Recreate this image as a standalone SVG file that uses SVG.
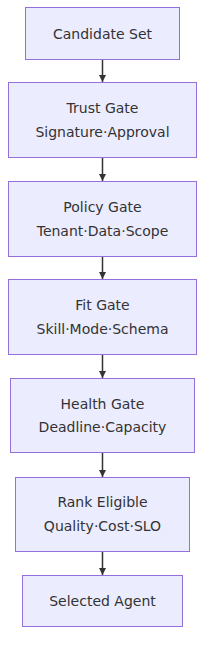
<svg xmlns="http://www.w3.org/2000/svg" width="213" height="658" viewBox="0 0 213 658">
<style>
.node rect{fill:#ECECFF;stroke:#9370DB;stroke-width:1}
.node text{font-family:"DejaVu Sans","Liberation Sans",sans-serif;font-size:14px;fill:#333;text-anchor:middle;dominant-baseline:central}
.edges line{stroke:#333;stroke-width:1.5}
</style>
<defs>
<marker id="arr" viewBox="0 0 10 10" refX="10" refY="5" markerWidth="7" markerHeight="7" markerUnits="userSpaceOnUse" orient="auto">
<path d="M0,0 L10,5 L0,10 z" fill="#333"/>
</marker>
</defs>
<rect width="213" height="658" fill="#fff"/>
<g class="edges">
<line x1="102.5" y1="60" x2="102.5" y2="82" marker-end="url(#arr)"/>
<line x1="102.5" y1="158" x2="102.5" y2="181" marker-end="url(#arr)"/>
<line x1="102.5" y1="257" x2="102.5" y2="279" marker-end="url(#arr)"/>
<line x1="102.5" y1="355" x2="102.5" y2="378" marker-end="url(#arr)"/>
<line x1="102.5" y1="453" x2="102.5" y2="477" marker-end="url(#arr)"/>
<line x1="102.5" y1="552" x2="102.5" y2="575" marker-end="url(#arr)"/>
</g>
<g id="candidate" class="node"><rect x="25.5" y="7.5" width="154" height="52"/><text x="102.5" y="33.5">Candidate Set</text></g>
<g id="trust" class="node"><rect x="8.5" y="82.5" width="188" height="75"/><text x="102.5" y="108">Trust Gate</text><text x="102.5" y="132">Signature·Approval</text></g>
<g id="policy" class="node"><rect x="8.5" y="181.5" width="188" height="75"/><text x="102.5" y="207">Policy Gate</text><text x="102.5" y="231">Tenant·Data·Scope</text></g>
<g id="fit" class="node"><rect x="8.5" y="279.5" width="188" height="75"/><text x="102.5" y="305">Fit Gate</text><text x="102.5" y="329">Skill·Mode·Schema</text></g>
<g id="health" class="node"><rect x="10.5" y="378.5" width="184" height="74"/><text x="102.5" y="404">Health Gate</text><text x="102.5" y="427">Deadline·Capacity</text></g>
<g id="rank" class="node"><rect x="15.5" y="477.5" width="174" height="74"/><text x="102.5" y="502">Rank Eligible</text><text x="102.5" y="526">Quality·Cost·SLO</text></g>
<g id="selected" class="node"><rect x="22.5" y="575.5" width="160" height="51"/><text x="102.5" y="601">Selected Agent</text></g>
</svg>
